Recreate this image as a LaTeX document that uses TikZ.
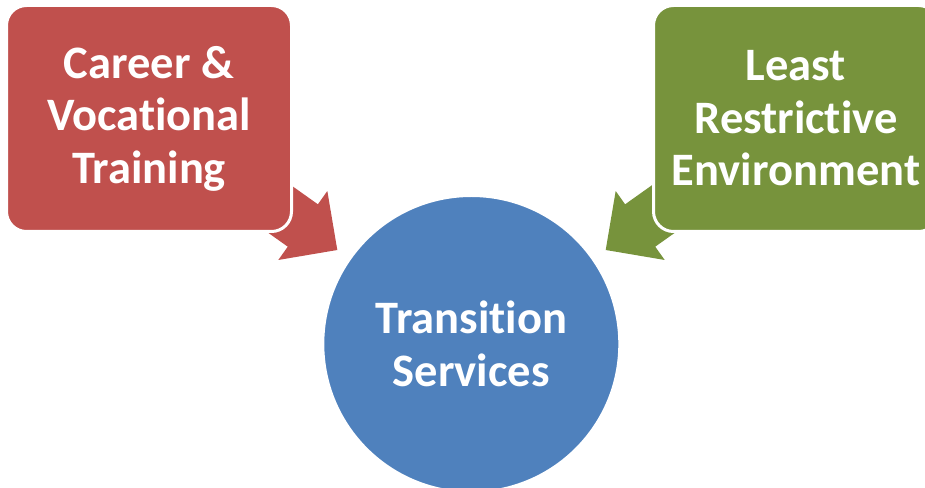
\documentclass[tikz,border=0pt]{standalone}
\usepackage{fontspec}
\setmainfont{Carlito}[Ligatures=NoCommon]
\definecolor{accred}{HTML}{C0504D}
\definecolor{accgreen}{HTML}{77933C}
\definecolor{accblue}{HTML}{4F81BD}
\tikzset{
  label text/.style={text=white, font=\fontsize{46.5}{52.5}\selectfont\bfseries, align=center},
  topic box/.style={rectangle, rounded corners=20pt, draw=white, line width=3pt,
    minimum width=285pt, minimum height=226pt, label text},
  hub/.style={circle, draw=white, line width=3pt, fill=accblue,
    minimum size=297pt, inner sep=0pt},
  % block arrow with its tip at the origin, pointing along +x
  converge arrow/.pic={
    \fill (0,0) -- (-42.3,42.3) -- (-42.3,26) -- (-110,26) -- (-110,-26)
      -- (-42.3,-26) -- (-42.3,-42.3) -- cycle;
  }
}
\begin{document}
\begin{tikzpicture}[x=1pt,y=1pt]
  \useasboundingbox (0,0) rectangle (925,487);
  \clip (0,0) rectangle (925,487);

  % arrow tips, just short of the central circle
  \coordinate (tipA) at (337.3,237);
  \coordinate (tipB) at (605.7,237);

  % arrows sit underneath the boxes
  \pic[fill=accred, rotate=-35.4] at (tipA) {converge arrow};
  \pic[fill=accgreen, rotate=215.4] at (tipB) {converge arrow};

  \node[topic box, fill=accred] (career) at (149,368.5)
    {Career \&\\Vocational\\Training};
  \node[topic box, fill=accgreen] (lre) at (796,368.5)
    {Least\\Restrictive\\Environment};

  \node[hub] (ts) at (471.3,143) {};
  \node[label text] (tslabel) at (ts.center) {Transition\\Services};
\end{tikzpicture}
\end{document}
